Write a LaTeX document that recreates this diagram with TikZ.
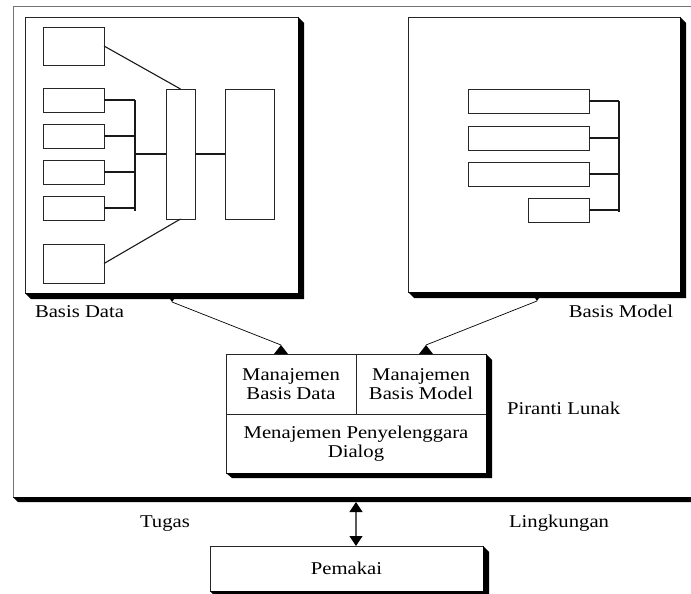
\documentclass[tikz,border=0pt]{standalone}
\usepackage{fontspec}
\setmainfont{Liberation Serif}[FakeStretch=1.15]
\usetikzlibrary{arrows.meta,calc}
\newcommand\boxshadow[2]{%
  \fill[black] (#1.north east) -- ([xshift=#2,yshift=-#2]#1.north east)
    -- ([xshift=#2,yshift=-#2]#1.south east) -- ([xshift=#2,yshift=-#2]#1.south west)
    -- (#1.south west) -- (#1.south east) -- cycle;}
\begin{document}
\begin{tikzpicture}[x=1pt,y=-1pt,
  font=\fontsize{18}{19.5}\selectfont,
  box/.style={draw=black!85,line width=0.9pt,inner sep=0pt,outer sep=0pt,anchor=north west,rectangle},
  frame/.style={draw=black!55,line width=1pt,inner sep=0pt,outer sep=0pt,anchor=north west,rectangle},
  wire/.style={draw=black!90,line width=1.1pt},
  link/.style={draw=black,line width=0.7pt},
  lbl/.style={inner sep=0pt,outer sep=0pt},
  tip/.style={Triangle[length=10pt,width=13pt,color=black]}]
\useasboundingbox (0,0) rectangle (691,594);
\clip (0,0) rectangle (691,594);
% outer frame
\node[frame,minimum width=747,minimum height=490] (fr) at (13,7) {};
\boxshadow{fr}{5}
% Basis Data
\node[box,minimum width=273,minimum height=276] (bd) at (25,17) {};
\boxshadow{bd}{6}
\node[box,minimum width=61,minimum height=38] (l1) at (43,27) {};
\node[box,minimum width=61,minimum height=24] (l2) at (43,88) {};
\node[box,minimum width=61,minimum height=24] (l3) at (43,124) {};
\node[box,minimum width=61,minimum height=24] (l4) at (43,160) {};
\node[box,minimum width=61,minimum height=24] (l5) at (43,196) {};
\node[box,minimum width=61,minimum height=39] (l6) at (43,244) {};
\node[box,minimum width=29,minimum height=130] (t) at (166,89) {};
\node[box,minimum width=49,minimum height=130] (r) at (225,89) {};
\coordinate (bus) at (135,154);
\draw[wire] (l2.east) -- (l2.east -| bus);
\draw[wire] (l3.east) -- (l3.east -| bus);
\draw[wire] (l4.east) -- (l4.east -| bus);
\draw[wire] (l5.east) -- (l5.east -| bus);
\draw[wire] (l2.east -| bus) -- ([yshift=-3]l5.east -| bus);
\draw[wire] (bus) -- (t.west);
\draw[wire] (t.east) -- (r.west);
\draw[wire] (l1.east) -- (t.north);
\draw[wire] (l6.east) -- (t.south);
% Basis Model
\node[box,minimum width=272,minimum height=275] (bm) at (408,17) {};
\boxshadow{bm}{6}
\node[box,minimum width=121,minimum height=24] (m1) at (468,89) {};
\node[box,minimum width=121,minimum height=24] (m2) at (468,126) {};
\node[box,minimum width=121,minimum height=24] (m3) at (468,162) {};
\node[box,minimum width=61,minimum height=24] (m4) at (528,198) {};
\coordinate (mbus) at (619,150);
\draw[wire] (m1.east) -- (m1.east -| mbus);
\draw[wire] (m2.east) -- (m2.east -| mbus);
\draw[wire] (m3.east) -- (m3.east -| mbus);
\draw[wire] (m4.east) -- (m4.east -| mbus);
\draw[wire] (m1.east -| mbus) -- ([yshift=-2]m4.east -| mbus);
% Manajemen block
\node[box,minimum width=130,minimum height=60,align=center] (c1) at (226,354) {Manajemen\\Basis Data};
\node[box,minimum width=130,minimum height=60,align=center] (c2) at (356,354) {Manajemen\\Basis Model};
\node[box,minimum width=260,minimum height=59,align=center] (c3) at (226,414) {Menajemen Penyelenggara\\Dialog};
\fill[black] (c2.north east) -- ([xshift=6,yshift=-6]c2.north east)
  -- ([xshift=6,yshift=-5]c3.south east) -- ([xshift=6,yshift=-5]c3.south west)
  -- (c3.south west) -- (c3.south east) -- cycle;
% connectors with markers
\coordinate (a1) at ([xshift=10.5]bd.south);
\coordinate (b1) at ([xshift=-10]c1.north);
\coordinate (a2) at ([xshift=-7]bm.south);
\coordinate (b2) at ([xshift=5]c2.north);
\fill ([xshift=-6]a1) -- ([xshift=6]a1) -- ([yshift=-9]a1) -- cycle;
\fill ([xshift=-7]b1) -- ([xshift=7]b1) -- ([yshift=9]b1) -- cycle;
\fill ([xshift=-6]a2) -- ([xshift=6]a2) -- ([yshift=-9]a2) -- cycle;
\fill ([xshift=-7]b2) -- ([xshift=7]b2) -- ([yshift=9]b2) -- cycle;
\draw[link] ([yshift=-9]a1) -- ([yshift=9]b1);
\draw[link] ([yshift=-9]a2) -- ([yshift=9]b2);
% labels
\node[lbl,anchor=base west] (lbd) at (35,317) {Basis Data};
\node[lbl,anchor=base east] (lbm) at (673,317) {Basis Model};
\node[lbl,anchor=base west] (lpl) at (507,414) {Piranti Lunak};
\node[lbl,anchor=base west] (ltg) at (140,527) {Tugas};
\node[lbl,anchor=base west] (llk) at (509,527) {Lingkungan};
% Pemakai
\node[box,minimum width=273,minimum height=45] (pm) at (210,546) {Pemakai};
\boxshadow{pm}{6}
\draw[draw=black!65,line width=1.1pt,{Triangle[length=10pt,width=13pt,color=black]}-{Triangle[length=10pt,width=13pt,color=black]}]
  ([yshift=-5]c3.south |- fr.south) -- (c3.south |- pm.north);
\end{tikzpicture}
\end{document}
